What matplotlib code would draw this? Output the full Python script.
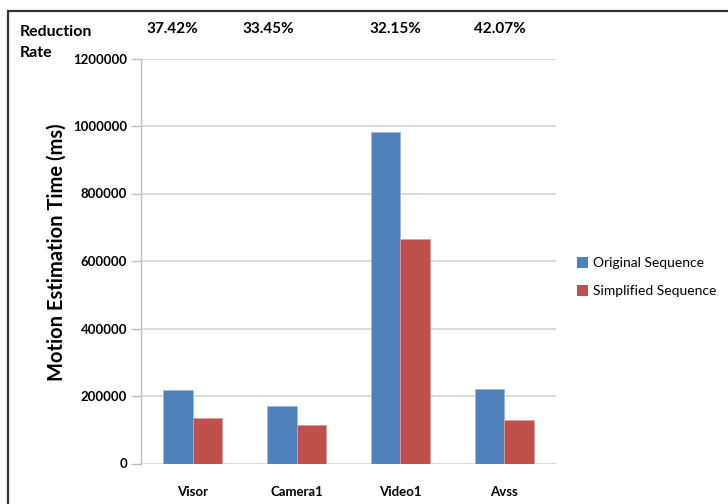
import matplotlib
matplotlib.use("Agg")
import matplotlib.pyplot as plt
from matplotlib.patches import Rectangle, Patch
from matplotlib.ticker import FuncFormatter
import numpy as np

# Data
sequences = ["Visor", "Camera1", "Video1", "Avss"]
original_time = [218000, 170000, 981000, 222000]
simplified_time = [135000, 114000, 665000, 128000]
reduction_labels = ["37.42%", "33.45%", "32.15%", "42.07%"]
y_ticks = [0, 200000, 400000, 600000, 800000, 1000000, 1200000]

BLUE = "#4F81BD"
RED = "#C0504D"
FONT = "Lato"
INK = "#000000"

W, H = 728, 504
fig = plt.figure(figsize=(W / 100, H / 100), dpi=100)
fig.patch.set_facecolor("white")

def fx(px):
    return px / W

def fy(py):
    return 1 - py / H

ax = fig.add_axes([fx(141), fy(463.5), fx(556) - fx(141), fy(58.5) - fy(463.5)])

x = np.arange(len(sequences))
bw = 0.285
ax.bar(x - bw / 2, original_time, width=bw, color=BLUE, edgecolor="#9DB9DE", linewidth=0.6, zorder=3)
ax.bar(x + bw / 2, simplified_time, width=bw, color=RED, edgecolor="#E29B99", linewidth=0.6, zorder=3)

ax.set_xlim(-0.5, len(sequences) - 0.5)
ax.set_ylim(0, 1200000)
ax.set_yticks(y_ticks)
ax.yaxis.set_major_formatter(FuncFormatter(lambda v, p: f"{int(v)}"))
ax.set_xticks(x)
ax.set_xticklabels(sequences)
ax.grid(axis="y", color="#D4D4D4", linewidth=1.2, zorder=0)
ax.set_axisbelow(True)

for s in ["top", "right", "bottom"]:
    ax.spines[s].set_visible(False)
ax.spines["left"].set_color("#BFBFBF")
ax.spines["left"].set_linewidth(1.0)

ax.tick_params(axis="y", length=7, width=1.0, color="#BFBFBF", pad=3,
               labelsize=9.5, labelcolor=INK)
ax.tick_params(axis="x", length=0, pad=16, labelsize=9.5, labelcolor=INK)
for lab in ax.get_yticklabels() + ax.get_xticklabels():
    lab.set_fontfamily(FONT)
    lab.set_fontweight("bold")

fig.text(fx(57), fy(252), "Motion Estimation Time (ms)", rotation=90,
         ha="center", va="center", fontsize=14.5, fontweight="bold",
         family=FONT, color=INK)

# Reduction-rate header
fig.text(fx(20), fy(32), "Reduction", ha="left", va="center", fontsize=11.5,
         fontweight="bold", family=FONT, color=INK)
fig.text(fx(20), fy(53), "Rate", ha="left", va="center", fontsize=11.5,
         fontweight="bold", family=FONT, color=INK)
for lab, cx in zip(reduction_labels, [172, 268, 395, 500]):
    fig.text(fx(cx), fy(29), lab, ha="center", va="center", fontsize=11,
             fontweight="bold", family=FONT, color=INK)

# Legend
handles = [Patch(facecolor=BLUE, edgecolor="none", label="Original Sequence"),
           Patch(facecolor=RED, edgecolor="none", label="Simplified Sequence")]
fig.legend(handles=handles, loc="center left", bbox_to_anchor=(fx(564), fy(277)),
           frameon=False, prop={"family": FONT, "size": 10},
           handlelength=0.8, handleheight=0.8, handletextpad=0.4,
           labelspacing=1.15, labelcolor=INK)

# Outer frame
fig.patches.append(Rectangle((fx(8), fy(520)), fx(740) - fx(8), fy(11) - fy(520),
                             transform=fig.transFigure, fill=False,
                             edgecolor="#333333", linewidth=1.6))

fig.savefig("out.png", dpi=100, facecolor="white")
